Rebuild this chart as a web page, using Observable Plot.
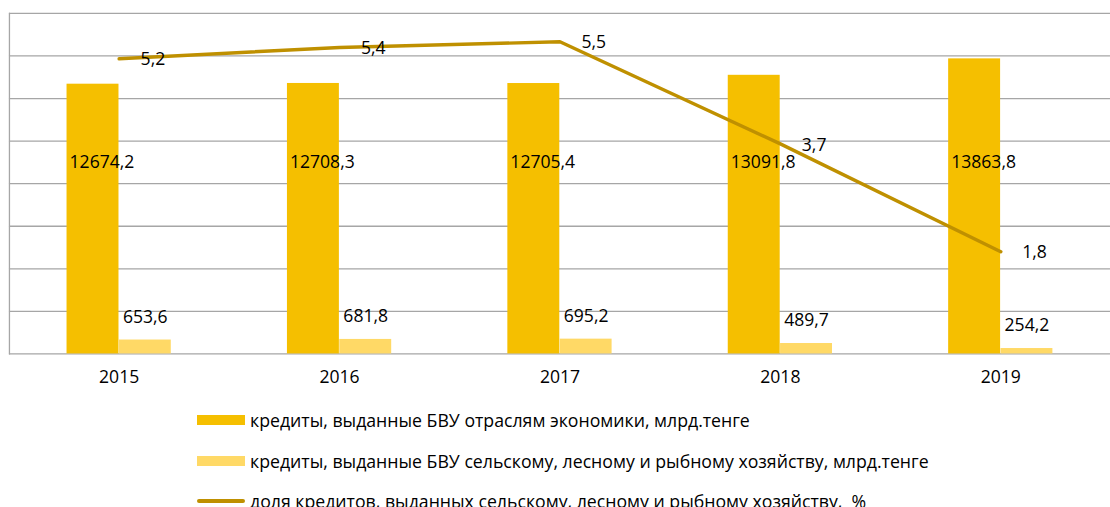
<!DOCTYPE html>
<html><head><meta charset="utf-8">
<script src="https://cdn.jsdelivr.net/npm/d3@7"></script>
<script src="https://cdn.jsdelivr.net/npm/@observablehq/plot@0.6"></script>
<style>
html,body{margin:0;padding:0;background:#fff;overflow:hidden;width:1110px;height:507px;}
#chart{width:1110px;overflow:hidden;}
.legend{font-family:"Open Sans",sans-serif;font-size:17.7px;color:#000;margin-left:197px;padding-top:3px;}
.row{height:40.5px;display:flex;align-items:center;white-space:pre;}
.sw{width:48px;margin-right:5px;flex:none;}
</style></head>
<body>
<div id="chart"></div>
<div class="legend" id="legend"></div>
<script>
const years = ["2015", "2016", "2017", "2018", "2019"];
const totalLoans = [12674.2, 12708.3, 12705.4, 13091.8, 13863.8];
const agriLoans = [653.6, 681.8, 695.2, 489.7, 254.2];
const agriShare = [5.2, 5.4, 5.5, 3.7, 1.8];
const gridTicks = [0, 2000, 4000, 6000, 8000, 10000, 12000, 14000, 16000];
const legendLabels = [
  "кредиты, выданные БВУ отраслям экономики, млрд.тенге",
  "кредиты, выданные БВУ сельскому, лесному и рыбному хозяйству, млрд.тенге",
  "доля кредитов, выданных сельскому, лесному и рыбному хозяйству,  %"
];
const colors = ["#F5BF00", "#FFD966", "#BF9000"];

const data = years.map((y, i) => ({year: y, total: totalLoans[i], agri: agriLoans[i], share: agriShare[i]}));
const fmt = v => v.toFixed(1).replace(".", ",");

const W = 1118, H = 400, mL = 9, mR = 0, mT = 13, mB = 44;
const pIn = 0.5255, pOut = 0.26;
const step = (W - mL - mR) / (years.length - pIn + 2 * pOut);
const halfBw = step * (1 - pIn) / 2;

// secondary axis (0–6 %) mapped onto primary (0–16000)
const share2y = d3.scaleLinear([0, 6], [0, 16000]);
const labelLevel = 9000;

const chart = Plot.plot({
  width: W, height: H,
  marginTop: mT, marginBottom: mB, marginLeft: mL, marginRight: mR,
  style: {fontFamily: "Open Sans, sans-serif", fontSize: "17.7px", color: "#000", background: "#fff"},
  x: {type: "band", domain: years, paddingInner: pIn, paddingOuter: pOut, axis: null, label: null},
  y: {domain: [0, 16000], axis: null},
  marks: [
    Plot.ruleY(gridTicks, {stroke: "#a6a6a6", strokeWidth: 1.3}),
    Plot.frame({anchor: "left", stroke: "#a6a6a6", strokeWidth: 1.3}),
    Plot.barY(data, {x: "year", y: "total", fill: colors[0], insetRight: halfBw}),
    Plot.barY(data, {x: "year", y: "agri", fill: colors[1], insetLeft: halfBw}),
    Plot.line(data, {x: "year", y: d => share2y(d.share), stroke: colors[2], strokeWidth: 3.5}),
    Plot.text(data, {x: "year", y: () => labelLevel, text: d => fmt(d.total), dx: -halfBw / 2 + 9, fill: "#000", fontSize: 17.7}),
    Plot.text(data, {x: "year", y: "agri", text: d => fmt(d.agri), dx: halfBw / 2, dy: -23, fill: "#000", fontSize: 17.7}),
    Plot.text(data, {x: "year", y: d => share2y(d.share), text: d => fmt(d.share), dx: 34, dy: 1, fill: "#000", fontSize: 17.7}),
    Plot.axisX({tickSize: 0, tickPadding: 17, fontSize: 17.7, label: null})
  ]
});
document.getElementById("chart").appendChild(chart);

const legend = document.getElementById("legend");
legendLabels.forEach((lab, i) => {
  const row = document.createElement("div");
  row.className = "row";
  const sw = document.createElement("span");
  sw.className = "sw";
  sw.style.background = colors[i];
  sw.style.height = i === 2 ? "4px" : "10px";
  if (i === 2) sw.style.borderRadius = "2px";
  const t = document.createElement("span");
  t.textContent = lab;
  row.appendChild(sw); row.appendChild(t);
  legend.appendChild(row);
});
</script>
</body></html>
